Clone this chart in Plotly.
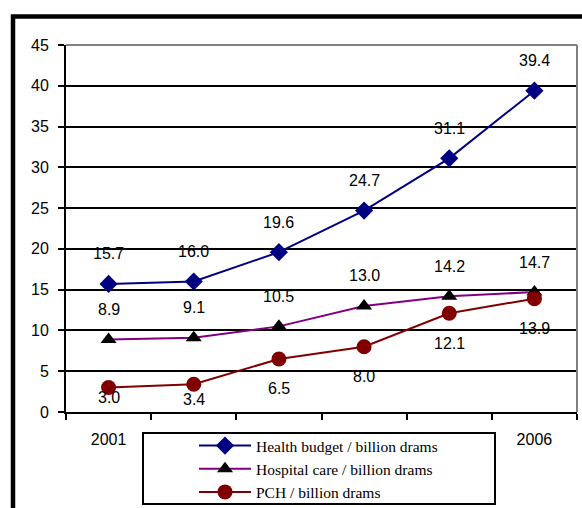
import plotly.graph_objects as go

years = ["2001", "2002", "2003", "2004", "2005", "2006"]
health = [15.7, 16.0, 19.6, 24.7, 31.1, 39.4]
hospital = [8.9, 9.1, 10.5, 13.0, 14.2, 14.7]
pch = [3.0, 3.4, 6.5, 8.0, 12.1, 13.9]

names = ["Health budget / billion drams", "Hospital care / billion drams", "PCH / billion drams"]

# label offsets (style)
health_shift = [30] * 6
hospital_shift = [30] * 6
pch_shift = [-10, -15, -30, -30, -30, -30]

W, H = 582, 508
L, R, T, B = 66, 5, 45, 96
pw, ph = W - L - R, H - T - B

def px(x):
    return (x - L) / pw

def py(y):
    return (H - B - y) / ph

fig = go.Figure()
fig.add_trace(go.Scatter(x=years, y=health, name=names[0], mode="lines+markers",
                         line=dict(color="#000080", width=2),
                         marker=dict(symbol="diamond", size=14, color="#000080")))
fig.add_trace(go.Scatter(x=years, y=hospital, name=names[1], mode="lines+markers",
                         line=dict(color="#800080", width=2),
                         marker=dict(symbol="triangle-up", size=14, color="#000000")))
fig.add_trace(go.Scatter(x=years, y=pch, name=names[2], mode="lines+markers",
                         line=dict(color="#800000", width=2),
                         marker=dict(symbol="circle", size=15, color="#800000")))

font = dict(family="Liberation Sans, Arial, sans-serif", size=16, color="black")
ann = []
for vals, shifts in ((health, health_shift), (hospital, hospital_shift), (pch, pch_shift)):
    for i, (v, s) in enumerate(zip(vals, shifts)):
        ann.append(dict(x=i, y=v, xref="x", yref="y", text=f"{v:.1f}", showarrow=False, yshift=s,
                        font=font, xanchor="center", yanchor="middle"))

shapes = [
    # plot border (top, right) gray
    dict(type="line", xref="paper", yref="paper", x0=0, x1=1, y0=1, y1=1,
         line=dict(color="#808080", width=2), layer="above"),
    dict(type="line", xref="paper", yref="paper", x0=1, x1=1, y0=0, y1=1,
         line=dict(color="#808080", width=2), layer="above"),
    # legend box
    dict(type="rect", xref="paper", yref="paper", x0=px(143), x1=px(495), y0=py(504), y1=py(433),
         line=dict(color="black", width=2), fillcolor="white", layer="above"),
    # outer frame
    dict(type="rect", xref="paper", yref="paper", x0=px(13), x1=px(640), y0=py(560), y1=py(16.5),
         line=dict(color="black", width=4.5), fillcolor="rgba(0,0,0,0)", layer="above"),
]

fig.update_layout(
    width=W, height=H,
    margin=dict(l=L, r=R, t=T, b=B, autoexpand=False),
    paper_bgcolor="white", plot_bgcolor="white",
    font=font,
    showlegend=True,
    legend=dict(x=px(194), y=py(429), xanchor="left", yanchor="top",
                bgcolor="rgba(0,0,0,0)", borderwidth=0, itemwidth=52,
                font=dict(family="Liberation Serif, Times New Roman, serif", size=15.5, color="black")),
    annotations=ann,
    shapes=shapes,
)
fig.update_xaxes(type="category", range=[-0.5, 5.5], showline=True, linecolor="black", linewidth=2,
                 ticks="outside", tickson="boundaries", ticklen=6, tickcolor="black", tickwidth=2,
                 showgrid=False, ticklabelstandoff=12, tickfont=font, zeroline=False)
fig.update_yaxes(range=[0, 45], dtick=5, tick0=0, showline=True, linecolor="black", linewidth=2,
                 ticks="outside", ticklen=6, tickcolor="black", tickwidth=2,
                 showgrid=True, gridcolor="black", gridwidth=2, zeroline=False,
                 ticklabelstandoff=6, tickfont=font)

fig.write_html("out.html", config={"displayModeBar": False},
               post_script="document.body.style.margin='0';document.body.style.overflow='hidden';")
